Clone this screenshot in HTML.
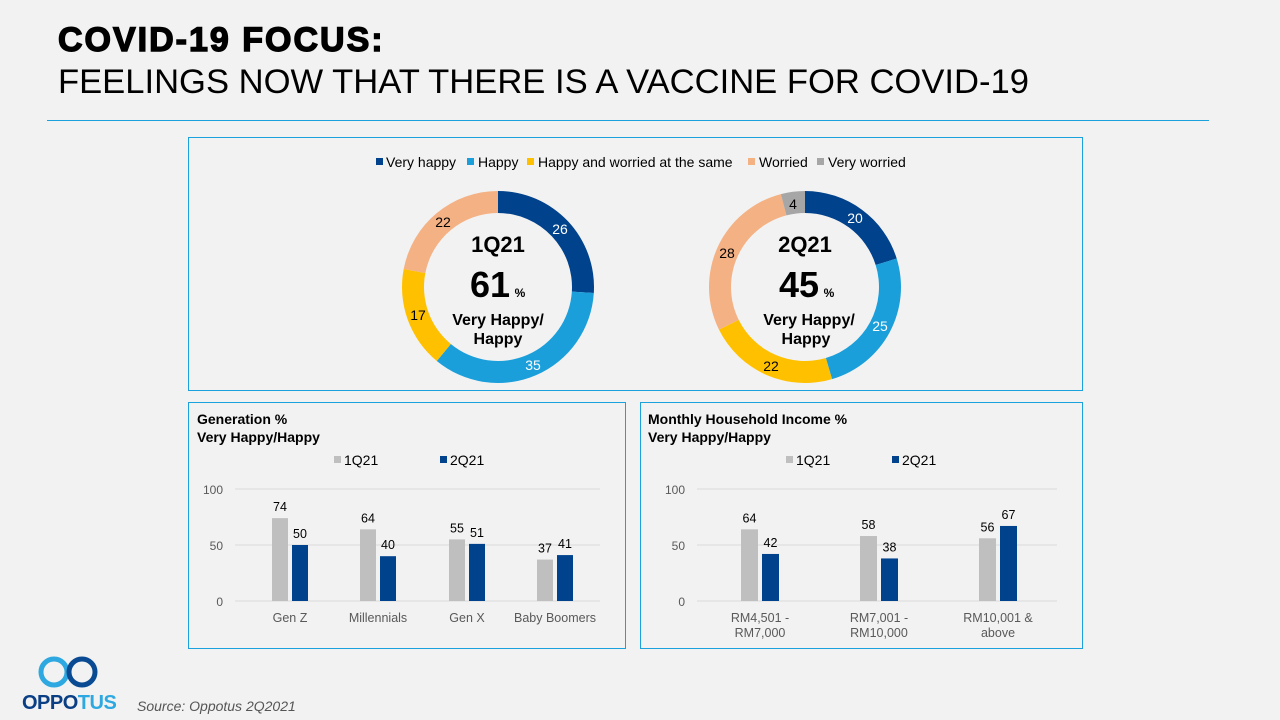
<!DOCTYPE html>
<html><head><meta charset="utf-8"><style>
body{margin:0;width:1280px;height:720px;background:#f2f2f2;font-family:"Liberation Sans",sans-serif;position:relative;overflow:hidden}
.a{position:absolute}
</style></head><body>
<div class="a" style="left:58px;top:21px;font-size:34px;font-weight:900;letter-spacing:2px;-webkit-text-stroke:1.4px #000">COVID-19 FOCUS:</div>
<div class="a" style="left:58px;top:63px;font-size:34.6px;">FEELINGS NOW THAT THERE IS A VACCINE FOR COVID-19</div>
<div class="a" style="left:47px;top:120px;width:1162px;height:1px;background:#1ba1dc"></div>
<svg class="a" style="left:0;top:0" width="1280" height="720" id="s" font-family="Liberation Sans, sans-serif">
<rect x="188.5" y="137.5" width="894" height="253" fill="none" stroke="#1ba1dc"/>
<rect x="188.5" y="402.5" width="437" height="246" fill="none" stroke="#1ba1dc"/>
<rect x="640.5" y="402.5" width="442" height="246" fill="none" stroke="#1ba1dc"/>
<g font-size="14" fill="#000">
<rect x="376" y="158" width="7" height="7" fill="#00428c"/><text x="386" y="167">Very happy</text>
<rect x="467" y="158" width="7" height="7" fill="#1a9fdb"/><text x="478" y="167">Happy</text>
<rect x="527" y="158" width="7" height="7" fill="#ffc000"/><text x="538" y="167">Happy and worried at the same</text>
<rect x="748" y="158" width="7" height="7" fill="#f4b183"/><text x="759" y="167">Worried</text>
<rect x="817" y="158" width="7" height="7" fill="#a6a6a6"/><text x="828" y="167">Very worried</text>
</g>
<g id="d"></g>
<g font-weight="bold" text-anchor="middle">
<text x="498" y="252" font-size="22">1Q21</text>
<text x="490" y="297" font-size="36">61</text><text x="520" y="297" font-size="12">%</text>
<text x="498" y="325" font-size="16">Very Happy/</text><text x="498" y="344" font-size="16">Happy</text>
<text x="805" y="252" font-size="22">2Q21</text>
<text x="799" y="297" font-size="36">45</text><text x="829" y="297" font-size="12">%</text>
<text x="809" y="325" font-size="16">Very Happy/</text><text x="806" y="344" font-size="16">Happy</text>
</g>
<g font-size="14" font-weight="bold"><text x="197" y="424">Generation %</text><text x="197" y="442">Very Happy/Happy</text>
<text x="648" y="424">Monthly Household Income %</text><text x="648" y="442">Very Happy/Happy</text></g>
<g font-size="14" fill="#000">
<rect x="334" y="456" width="7" height="7" fill="#bfbfbf"/><text x="344" y="465">1Q21</text>
<rect x="440" y="456" width="7" height="7" fill="#00428c"/><text x="450" y="465">2Q21</text>
<rect x="786" y="456" width="7" height="7" fill="#bfbfbf"/><text x="796" y="465">1Q21</text>
<rect x="892" y="456" width="7" height="7" fill="#00428c"/><text x="902" y="465">2Q21</text>
</g>
<g id="b"></g>
</svg>
<svg class="a" style="left:36px;top:656px" width="66" height="34">
<circle cx="18" cy="16" r="13" fill="none" stroke="#2ea8e0" stroke-width="5"/>
<circle cx="46" cy="16" r="13" fill="none" stroke="#0a4a93" stroke-width="5"/>
</svg>
<div class="a" style="left:22px;top:692px;font-size:20px;font-weight:900;color:#0a3f85;letter-spacing:-0.5px">OPPO<span style="color:#2ea8e0">TUS</span></div>
<div class="a" style="left:137px;top:698px;font-size:14px;font-style:italic;color:#555">Source: Oppotus 2Q2021</div>
<script>
var ns="http://www.w3.org/2000/svg",d=document.getElementById("d"),b=document.getElementById("b");
function el(t,a,p,txt){var e=document.createElementNS(ns,t);for(var k in a)e.setAttribute(k,a[k]);if(txt!==undefined)e.textContent=txt;(p||d).appendChild(e);return e}
function donut(cx,cy,vals,cols,lab,lc){var R=96,r=74,tot=vals.reduce((a,c)=>a+c,0),s=0;
vals.forEach(function(v,i){var a0=s/tot*2*Math.PI,a1=(s+v)/tot*2*Math.PI;s+=v;
function p(rr,a){return [cx+rr*Math.sin(a),cy-rr*Math.cos(a)]}
var A=p(R,a0),B=p(R,a1),C=p(r,a1),D=p(r,a0),l=(a1-a0)>Math.PI?1:0;
el("path",{d:"M"+A+"A"+R+","+R+" 0 "+l+" 1 "+B+"L"+C+"A"+r+","+r+" 0 "+l+" 0 "+D+"Z",fill:cols[i]});
el("text",{x:lab[i][0],y:lab[i][1],"font-size":14,fill:lc[i],"text-anchor":"middle"},undefined,vals[i]).textContent=vals[i];});}
var C=["#00428c","#1a9fdb","#ffc000","#f4b183","#a6a6a6"];
donut(498,287,[26,35,17,22],C,[[560,234],[533,370],[418,320],[443,227]],["#fff","#fff","#000","#000"]);
donut(805,287,[20,25,22,28,4],C,[[855,223],[880,331],[771,371],[727,258],[793,209]],["#fff","#fff","#000","#000","#000"]);
function bars(x0,x1,cats,g,bl,w,lines){for(var k=0;k<=2;k++){var y=601-k*56;el("line",{x1:x0,x2:x1,y1:y,y2:y,stroke:"#d9d9d9"},b);el("text",{x:x0-12,y:y+5,"font-size":12,fill:"#595959","text-anchor":"end"},b,k*50)}
cats.forEach(function(c,i){var gx=c-w-2,bx=c+2;var h1=g[i]*1.12,h2=bl[i]*1.12;
el("rect",{x:gx,y:601-h1,width:w,height:h1,fill:"#bfbfbf"},b);el("rect",{x:bx,y:601-h2,width:w,height:h2,fill:"#00428c"},b);
el("text",{x:gx+w/2,y:601-h1-7,"font-size":12.5,"text-anchor":"middle"},b,g[i]);el("text",{x:bx+w/2,y:601-h2-7,"font-size":12.5,"text-anchor":"middle"},b,bl[i]);
lines[i].forEach(function(t,j){el("text",{x:c,y:622+j*15,"font-size":12.5,fill:"#595959","text-anchor":"middle"},b,t)})})}
bars(235,600,[290,378,467,555],[74,64,55,37],[50,40,51,41],16,[["Gen Z"],["Millennials"],["Gen X"],["Baby Boomers"]]);
bars(697,1057,[760,879,998],[64,58,56],[42,38,67],17,[["RM4,501 -","RM7,000"],["RM7,001 -","RM10,000"],["RM10,001 &","above"]]);
</script>
</body></html>
